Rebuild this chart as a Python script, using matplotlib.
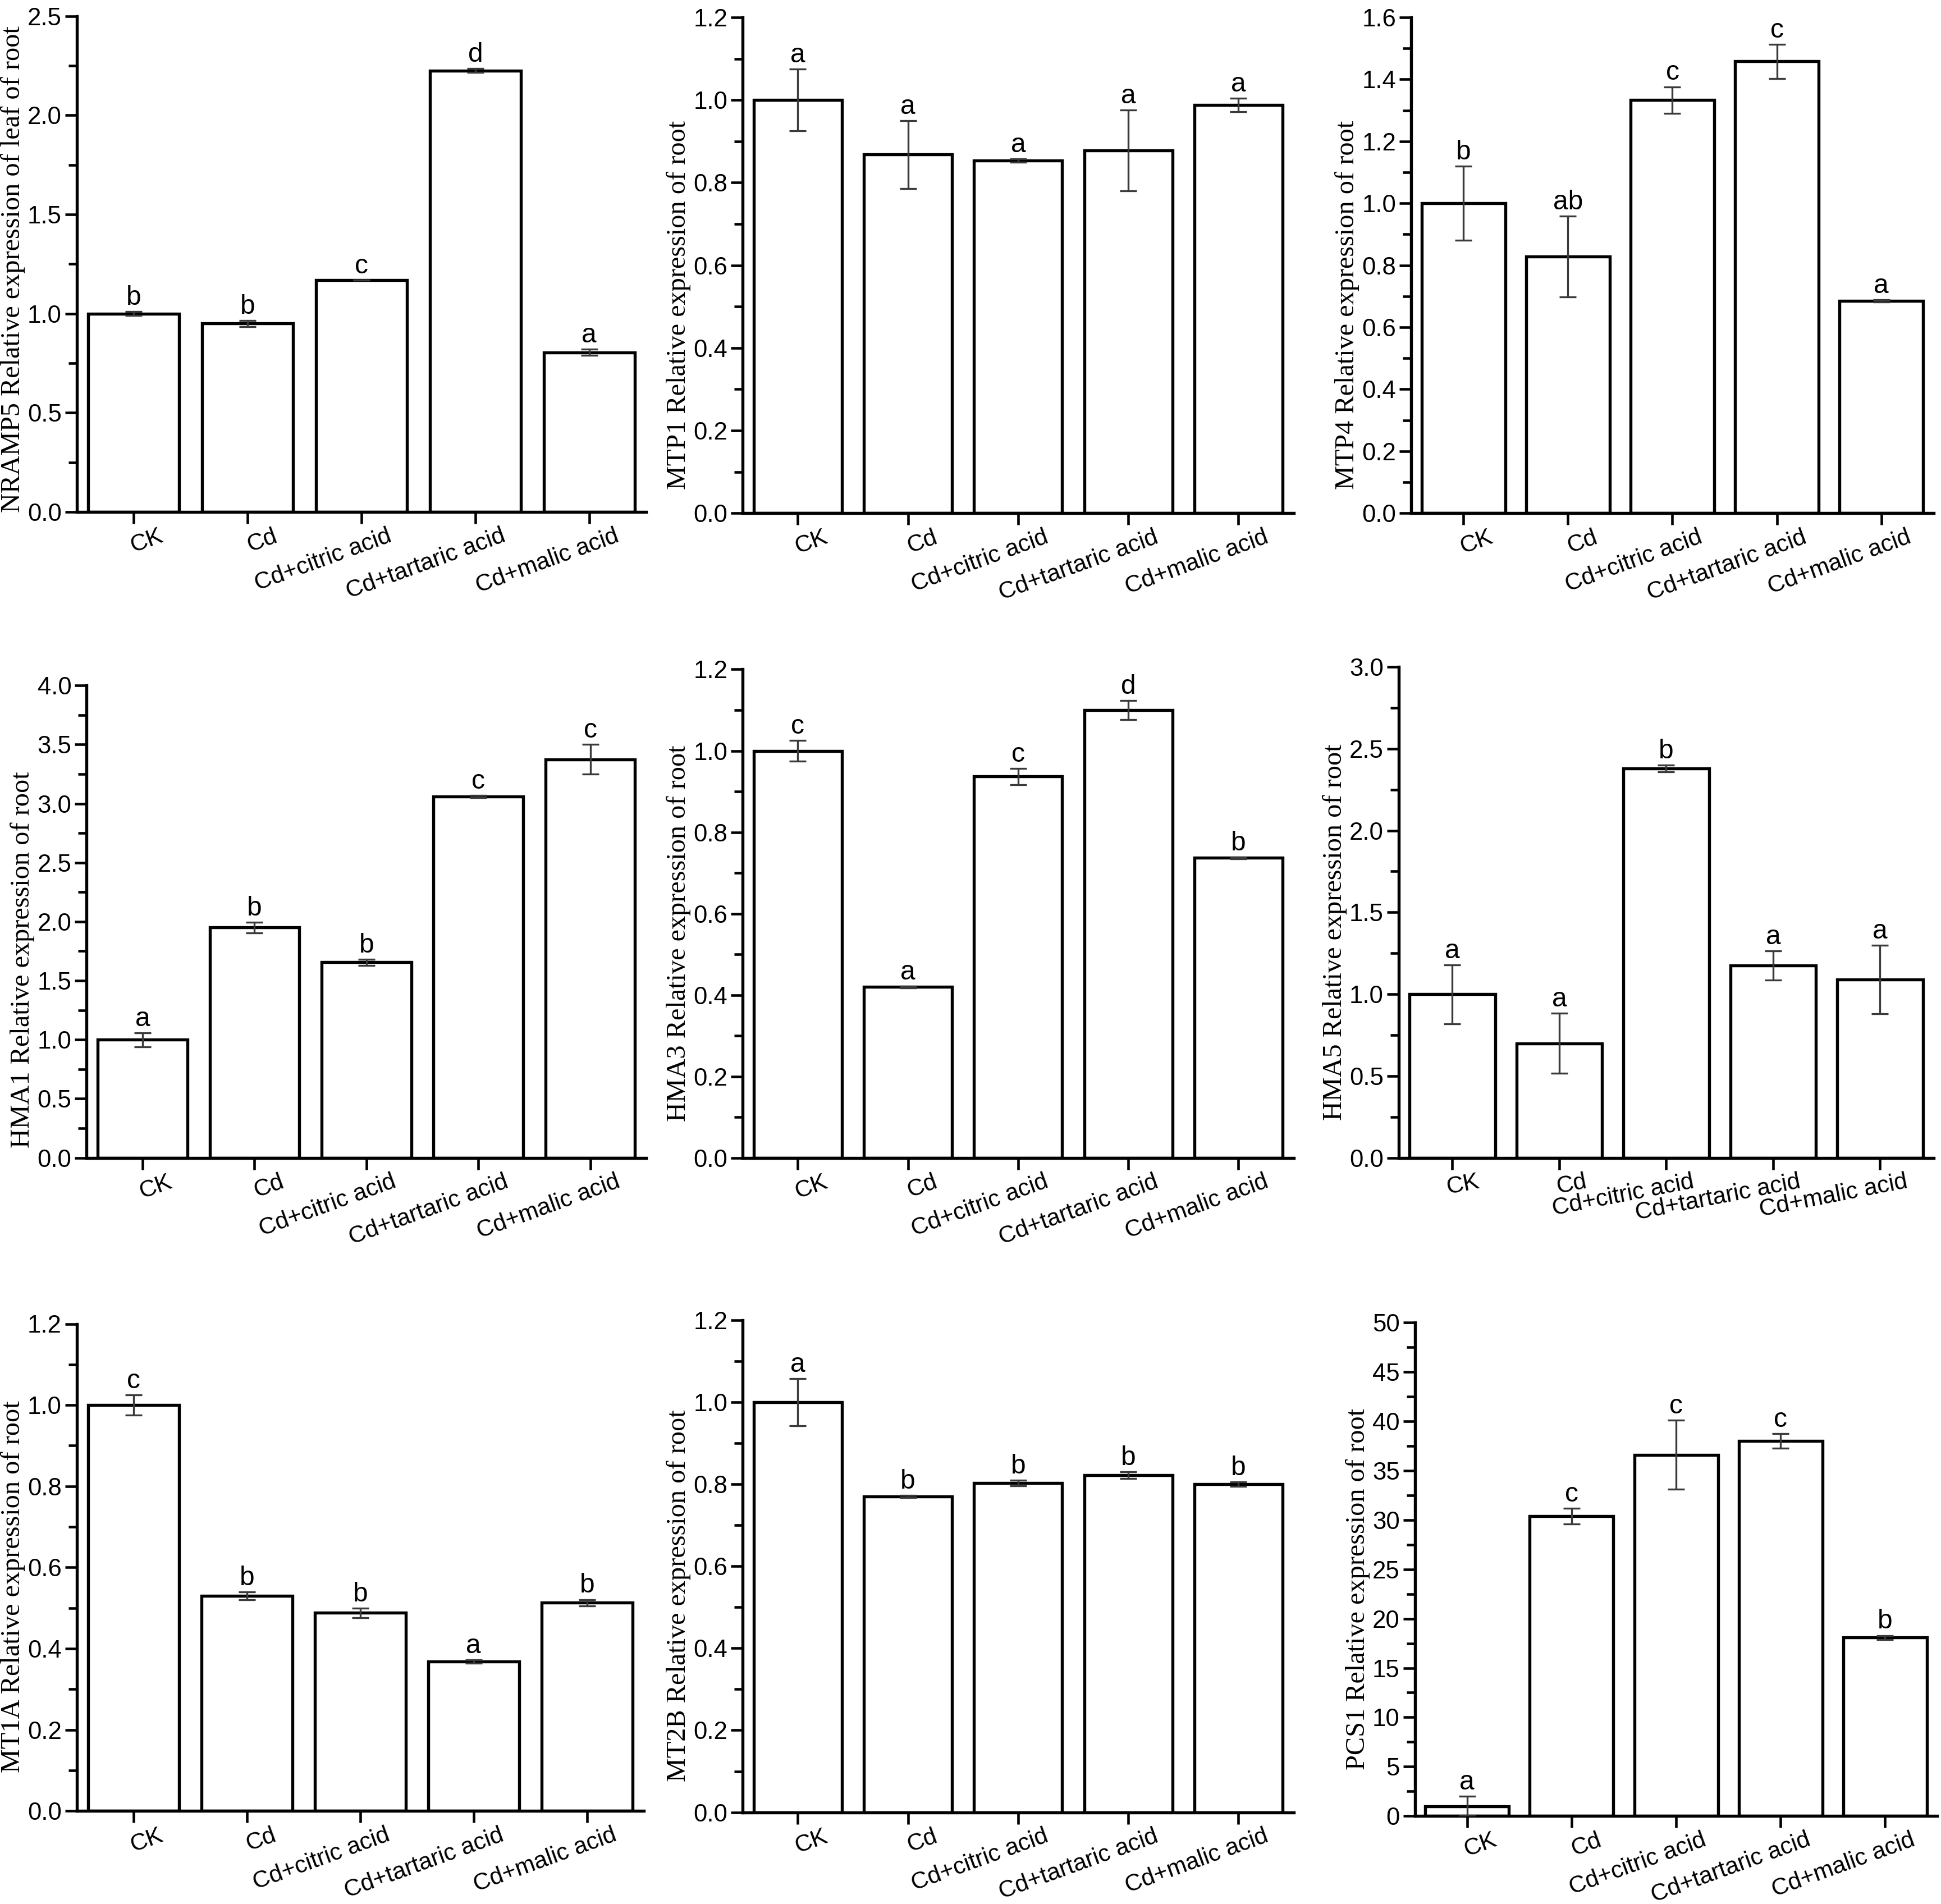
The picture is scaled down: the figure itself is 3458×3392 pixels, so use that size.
import matplotlib
matplotlib.use("Agg")
import matplotlib.pyplot as plt
import matplotlib.transforms as mtransforms
from matplotlib.ticker import MultipleLocator, FormatStrFormatter

treatments = ["CK", "Cd", "Cd+citric acid", "Cd+tartaric acid", "Cd+malic acid"]

nramp5 = [1.0, 0.95, 1.17, 2.225, 0.805]
nramp5_err = [0.01, 0.015, 0.0, 0.01, 0.015]
nramp5_sig = ["b", "b", "c", "d", "a"]

mtp1 = [1.0, 0.868, 0.853, 0.878, 0.988]
mtp1_err = [0.075, 0.082, 0.004, 0.098, 0.016]
mtp1_sig = ["a", "a", "a", "a", "a"]

mtp4 = [1.0, 0.828, 1.333, 1.458, 0.685]
mtp4_err = [0.12, 0.13, 0.043, 0.055, 0.004]
mtp4_sig = ["b", "ab", "c", "c", "a"]

hma1 = [1.0, 1.95, 1.655, 3.06, 3.375]
hma1_err = [0.06, 0.045, 0.025, 0.01, 0.125]
hma1_sig = ["a", "b", "b", "c", "c"]

hma3 = [1.0, 0.42, 0.937, 1.1, 0.737]
hma3_err = [0.025, 0.002, 0.02, 0.023, 0.002]
hma3_sig = ["c", "a", "c", "d", "b"]

hma5 = [1.0, 0.7, 2.38, 1.175, 1.09]
hma5_err = [0.18, 0.185, 0.02, 0.088, 0.21]
hma5_sig = ["a", "a", "b", "a", "a"]

mt1a = [1.0, 0.53, 0.488, 0.368, 0.513]
mt1a_err = [0.025, 0.01, 0.012, 0.004, 0.008]
mt1a_sig = ["c", "b", "b", "a", "b"]

mt2b = [1.0, 0.77, 0.803, 0.822, 0.8]
mt2b_err = [0.058, 0.003, 0.007, 0.008, 0.006]
mt2b_sig = ["a", "b", "b", "b", "b"]

pcs1 = [1.0, 30.4, 36.6, 38.0, 18.1]
pcs1_err = [1.0, 0.8, 3.5, 0.75, 0.2]
pcs1_sig = ["a", "c", "c", "c", "b"]

# (values, errors, letters, ylabel, ymax, major step, tick format)
panels = [
    (nramp5, nramp5_err, nramp5_sig, "NRAMP5 Relative expression of leaf of root", 2.5, 0.5, "%.1f"),
    (mtp1, mtp1_err, mtp1_sig, "MTP1 Relative expression of root", 1.2, 0.2, "%.1f"),
    (mtp4, mtp4_err, mtp4_sig, "MTP4 Relative expression of root", 1.6, 0.2, "%.1f"),
    (hma1, hma1_err, hma1_sig, "HMA1 Relative expression of root", 4.0, 0.5, "%.1f"),
    (hma3, hma3_err, hma3_sig, "HMA3 Relative expression of root", 1.2, 0.2, "%.1f"),
    (hma5, hma5_err, hma5_sig, "HMA5 Relative expression of root", 3.0, 0.5, "%.1f"),
    (mt1a, mt1a_err, mt1a_sig, "MT1A Relative expression of root", 1.2, 0.2, "%.1f"),
    (mt2b, mt2b_err, mt2b_sig, "MT2B Relative expression of root", 1.2, 0.2, "%.1f"),
    (pcs1, pcs1_err, pcs1_sig, "PCS1 Relative expression of root", 50, 5, "%d"),
]

# axes rectangles, measured on a 1568x1536 view: left, bottom, right, top
W, H = 1568.0, 1536.0
boxes = [
    (62, 413, 522, 13), (600, 414, 1045, 14), (1140, 414, 1562, 14),
    (70, 934, 522, 553), (600, 934, 1045, 540), (1130, 934, 1562, 538),
    (62, 1461, 520, 1068), (600, 1462, 1045, 1065), (1143, 1465, 1565, 1067),
]
rotations = [20, 20, 20, 20, 20, 11, 20, 20, 20]
label_y = [0.49, 0.42, 0.42, 0.42, 0.46, 0.46, 0.46, 0.44, 0.46]

sans = ["Liberation Sans", "Arial", "DejaVu Sans"]
serif = ["Liberation Serif", "Times New Roman", "DejaVu Serif"]

fig = plt.figure(figsize=(3458 / 300, 3392 / 300), dpi=300)
x = list(range(len(treatments)))

for (vals, errs, sig, ylab, ymax, step, fmt), (l, b, r, t), rot, ly in zip(panels, boxes, rotations, label_y):
    ax = fig.add_axes([l / W, 1 - b / H, (r - l) / W, (b - t) / H])
    ax.bar(x, vals, width=0.8, color="white", edgecolor="black", linewidth=1.3, zorder=2)
    ax.errorbar(x, vals, yerr=errs, fmt="none", ecolor="#3a3a3a", elinewidth=0.8,
                capsize=3.5, capthick=0.8, zorder=3)
    for xi, v, e, s in zip(x, vals, errs, sig):
        ax.annotate(s, (xi, v + e), xytext=(0, 0.5), textcoords="offset points",
                    ha="center", va="bottom", fontsize=11.5, family=sans)
    ax.set_xlim(-0.5, 4.5)
    ax.set_ylim(0, ymax)
    ax.yaxis.set_major_locator(MultipleLocator(step))
    ax.yaxis.set_minor_locator(MultipleLocator(step / 2))
    ax.yaxis.set_major_formatter(FormatStrFormatter(fmt))
    ax.spines[["top", "right"]].set_visible(False)
    for sp in ("left", "bottom"):
        ax.spines[sp].set_linewidth(1.3)
    ax.tick_params(axis="both", which="major", direction="out", length=5, width=1.1,
                   labelsize=10.5, pad=1.5)
    ax.tick_params(axis="x", which="major", pad=0.5)
    ax.tick_params(axis="y", which="minor", direction="out", length=3.5, width=1.1)
    ax.set_xticks(x)
    ax.set_xticklabels(treatments, rotation=rot, ha="right", rotation_mode="anchor",
                       family=sans, fontsize=10.2)
    shift = mtransforms.ScaledTranslation(0.15, 0.0, fig.dpi_scale_trans)
    for lab in ax.get_xticklabels():
        lab.set_transform(lab.get_transform() + shift)
    for lab in ax.get_yticklabels():
        lab.set_family(sans)
    ax.set_ylabel(ylab, family=serif, fontsize=11.6, labelpad=1)
    ax.yaxis.label.set_y(ly)

fig.savefig("out.png", dpi=300, facecolor="white")
